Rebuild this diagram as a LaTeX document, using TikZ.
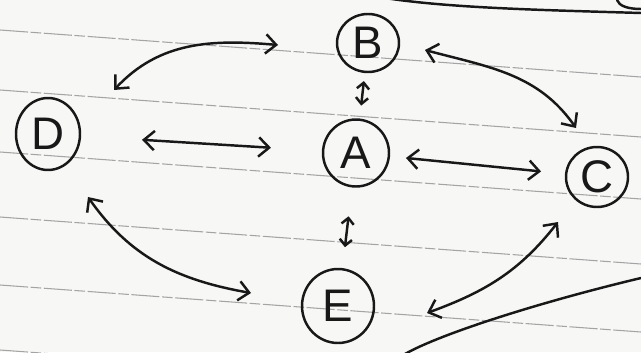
\documentclass[tikz,border=0pt]{standalone}
\usepackage{fontspec}
\setmainfont{Liberation Sans}
\usetikzlibrary{arrows.meta,shapes.geometric}
\definecolor{paper}{HTML}{F7F7F5}
\definecolor{ink}{HTML}{181818}
\definecolor{ruling}{HTML}{A4A4A4}
\tikzset{
  vertex/.style={ellipse, draw=ink, line width=1.4pt, inner sep=0pt,
    text=ink, font=\fontsize{26}{28}\selectfont},
  link/.style={draw=ink, line width=1.4pt, line cap=round, line join=round, <->,
    >={Straight Barb[length=6pt,width=11pt]}},
  shortlink/.style={draw=ink, line width=1.4pt, line cap=round, line join=round, <->,
    >={Straight Barb[length=3.5pt,width=7pt]}},
  ruleline/.style={draw=ruling, line width=0.6pt, dash pattern=on 16pt off 1.5pt on 6pt off 1.5pt},
  pen/.style={draw=ink, line width=1.4pt, line cap=round}
}
\begin{document}
\begin{tikzpicture}[x=0.02cm, y=0.02cm]
\useasboundingbox (0,0) rectangle (641,352);
\fill[paper] (0,0) rectangle (641,352);

% ruled lines of the sheet
\foreach \yl in {322,262,200,135,67,2}
  \draw[ruleline] (0,\yl) -- (641,\yl-47);

% stray pen strokes at the edges
\draw[pen] (385,354) .. controls (450,344) and (540,342) .. (641,339);
\draw[pen] (617,352) .. controls (619,346) and (628,343) .. (641,343);
\draw[pen] (405,-2) .. controls (440,18) and (540,50) .. (641,74);

% vertices
\node[vertex, minimum width=1.24cm, minimum height=1.16cm] (B) at (368,309) {B};
\node[vertex, minimum width=1.32cm, minimum height=1.34cm] (A) at (356,199) {A};
\node[vertex, minimum width=1.28cm, minimum height=1.44cm] (D) at (48,218) {D};
\node[vertex, minimum width=1.24cm, minimum height=1.20cm] (C) at (597,175) {C};
\node[vertex, minimum width=1.44cm, minimum height=1.48cm] (E) at (338,46) {E};

% straight two-way links
\draw[link, shorten <=1.22cm, shorten >=1.02cm] (D) -- (A);
\draw[link, shorten <=0.32cm, shorten >=0.48cm] (A) -- (C);
\draw[shortlink, shorten <=0.16cm, shorten >=0.26cm] (B) -- (A);
\draw[shortlink, shorten <=0.58cm, shorten >=0.42cm] (A) -- (E);

% curved two-way links
\draw[link] ([shift={(66,44)}]D.center) to[out=47,in=175] ([shift={(-90,-2)}]B.center);
\draw[link] ([shift={(57,-7)}]B.center) to[out=-15,in=125] ([shift={(-21,49)}]C.center);
\draw[link] ([shift={(40,-63)}]D.center) to[out=-55,in=170] ([shift={(-87,13)}]E.center);
\draw[link] ([shift={(-39,-45)}]C.center) to[out=232,in=20] ([shift={(89,-7)}]E.center);
\end{tikzpicture}
\end{document}
